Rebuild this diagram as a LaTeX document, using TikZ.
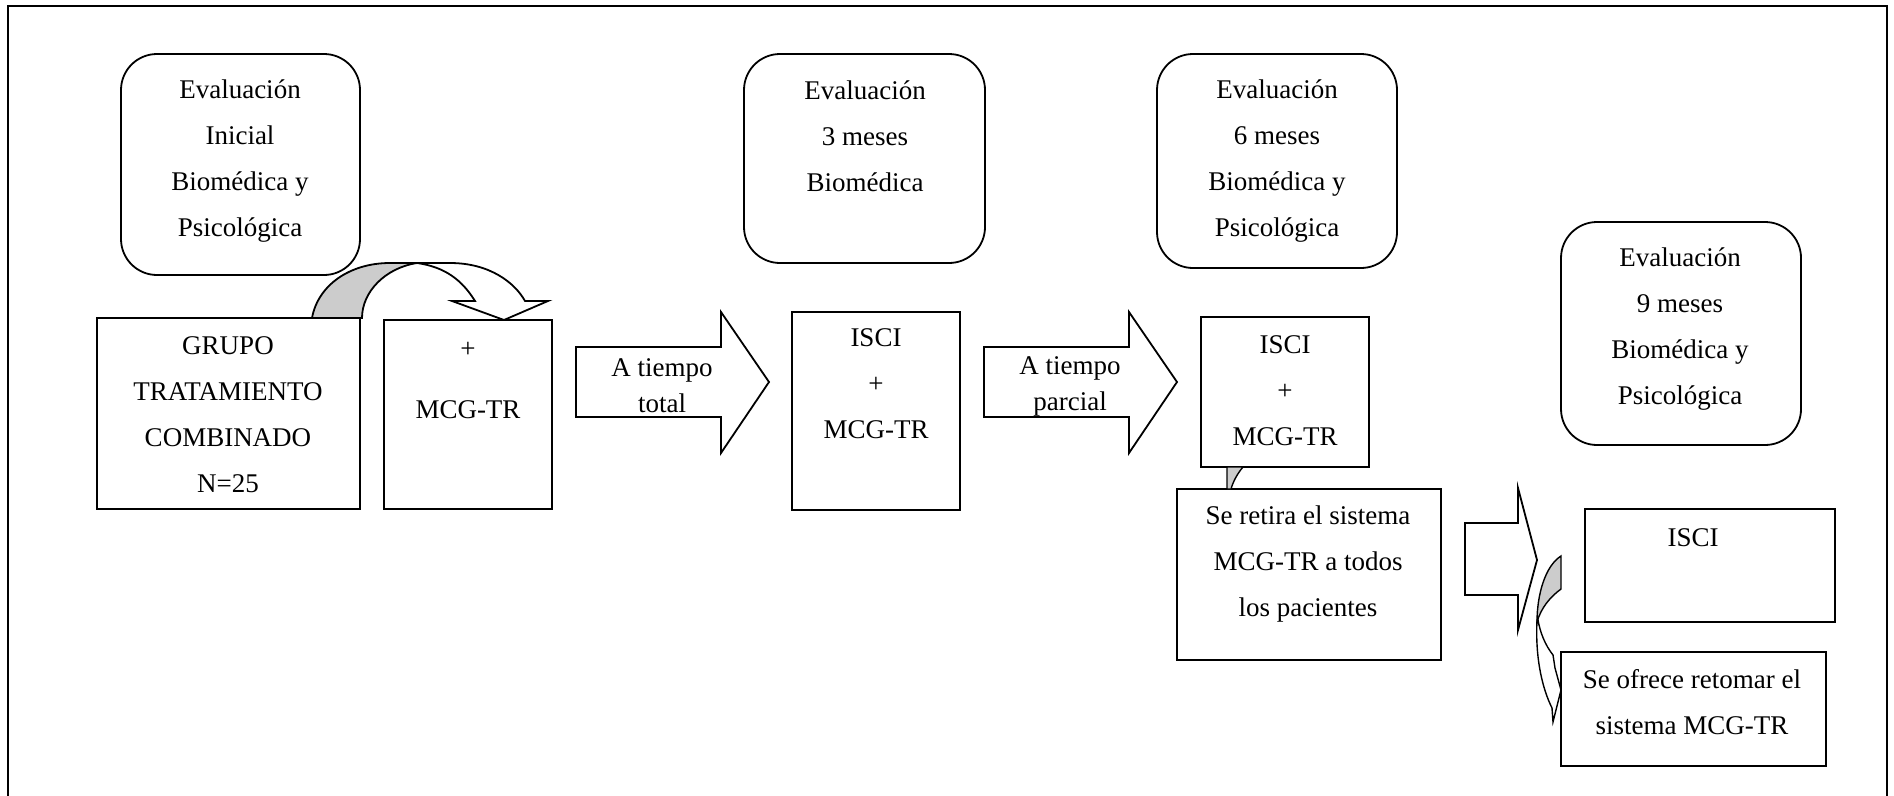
\documentclass[tikz,border=0pt]{standalone}
\usepackage{fontspec}
\setmainfont{Liberation Serif}
\begin{document}
\begin{tikzpicture}[x=1pt,y=-1pt,line width=1.8pt,line join=miter,
  box/.style={draw,fill=white,inner sep=0pt},
  evalbox/.style={box,rounded corners=36pt},
  txt/.style={align=center,inner sep=0pt,font=\fontsize{27}{46}\selectfont},
  arrtxt/.style={align=center,inner sep=0pt,font=\fontsize{27}{36}\selectfont},
  back/.style={draw,fill=gray!40}]
\useasboundingbox (0,0) rectangle (1894,795);

% outer frame (runs on below the lower edge)
\draw (8,800) -- (8,6) -- (1887,6) -- (1887,800);

% evaluation boxes
\node[evalbox,minimum width=239pt,minimum height=221pt] (evIni) at (240.5,164.5) {};
\node[evalbox,minimum width=241pt,minimum height=209pt] (ev3) at (864.5,158.5) {};
\node[evalbox,minimum width=240pt,minimum height=214pt] (ev6) at (1277,161) {};
\node[evalbox,minimum width=240pt,minimum height=223pt] (ev9) at (1681,333.5) {};

\node[txt] (evIniT) at (240,161.5) {Evaluación\\Inicial\\Biomédica y\\Psicológica};
\node[txt] (ev3T) at (865,136) {Evaluación\\3 meses\\Biomédica};
\node[txt] (ev6T) at (1277,161.5) {Evaluación\\6 meses\\Biomédica y\\Psicológica};
\node[txt] (ev9T) at (1680,329.5) {Evaluación\\9 meses\\Biomédica y\\Psicológica};

% treatment boxes
\node[box,minimum width=263pt,minimum height=191pt] (grupo) at (228.5,413.5) {};
\node[box,minimum width=168pt,minimum height=189pt] (plus) at (468,414.5) {};
\node[box,minimum width=168pt,minimum height=198pt] (isciA) at (876,411) {};
\node[box,minimum width=168pt,minimum height=150pt] (isciB) at (1285,392) {};
\node[box,minimum width=264pt,minimum height=171pt] (retira) at (1309,574.5) {};
\node[box,minimum width=250pt,minimum height=113pt] (isciC) at (1710,565.5) {};
\node[box,minimum width=265pt,minimum height=114pt] (ofrece) at (1693.5,709) {};

\node[txt] (grupoT) at (228,415) {GRUPO\\TRATAMIENTO\\COMBINADO\\N=25};
\node[txt,font=\fontsize{27}{61}\selectfont] (plusT) at (468,380) {+\\MCG-TR};
\node[txt] (isciAT) at (876,384) {ISCI\\+\\MCG-TR};
\node[txt] (isciBT) at (1285,391) {ISCI\\+\\MCG-TR};
\node[txt] (retiraT) at (1308,563.5) {Se retira el sistema\\MCG-TR a todos\\los pacientes};
\node[txt] (isciCT) at (1693,538) {ISCI};
\node[txt] (ofreceT) at (1692,702) {Se ofrece retomar el\\sistema MCG-TR};

% curved arrow from the group box to the "+ MCG-TR" box
\draw[back] (312,318) .. controls (318,285) and (350,263) .. (390,263) -- (417,263)
  .. controls (385,268) and (362,292) .. (362,318) -- cycle;
\draw[fill=white] (417,263) -- (450,263) .. controls (490,263) and (515,283) .. (525,301)
  -- (548,301) -- (504,320) -- (452,301) -- (475,301)
  .. controls (462,280) and (445,267) .. (417,263) -- cycle;

% block arrows
\draw[fill=white] (576,347) -- (721,347) -- (721,312) -- (769,382) -- (721,453) -- (721,417) -- (576,417) -- cycle;
\node[arrtxt] (totalT) at (662,386) {A tiempo\\total};
\draw[fill=white] (984,347) -- (1129,347) -- (1129,312) -- (1177,382) -- (1129,453) -- (1129,417) -- (984,417) -- cycle;
\node[arrtxt] (parcialT) at (1070,386) {A tiempo\\parcial};
\draw[fill=white] (1465,523) -- (1518,523) -- (1518,488) -- (1537,560) -- (1518,630) -- (1518,595) -- (1465,595) -- cycle;

% small curved arrow under the second ISCI box
\draw[back,line width=1.4pt] (1227,467) -- (1243,467) .. controls (1237,474) and (1233,482) .. (1231,489) -- (1227,489) -- cycle;

% curved arrow towards the last box
\draw[back,line width=1.4pt] (1561,556) -- (1561,589) .. controls (1550,597) and (1541,608) .. (1537,622)
  .. controls (1537,595) and (1545,566) .. (1561,556) -- cycle;
\draw[fill=white,line width=1.4pt] (1537,620) .. controls (1535,660) and (1543,690) .. (1552,708)
  -- (1553,722) -- (1561,690) -- (1555,668) -- (1553,655)
  .. controls (1545,645) and (1540,632) .. (1538,620) -- cycle;
\end{tikzpicture}
\end{document}
